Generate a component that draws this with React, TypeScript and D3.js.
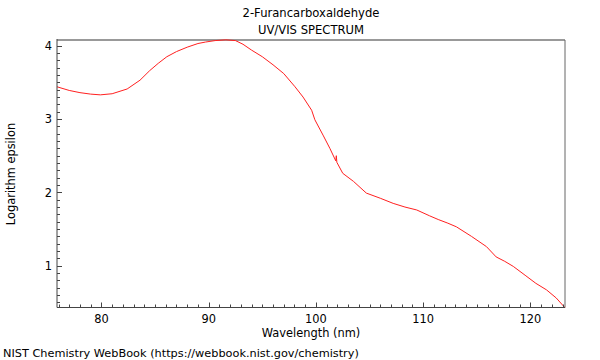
import React from "react";
import * as d3 from "d3";

const wavelengths = [75.86, 77, 78, 79, 79.9, 81, 82.4, 83.6, 84.5, 85.3, 86.1, 87, 88, 89, 89.7, 90.6, 91.6, 92.5, 93.2, 94.0, 95, 96.0, 97, 98.05, 98.8, 99.6, 99.9, 100.7, 101.3, 101.85, 101.9, 101.95, 102.5, 103.5, 104.7, 106, 107.2, 108.3, 109.4, 110.6, 111.4, 112.3, 113.1, 114.5, 115.9, 116.8, 117.6, 118.4, 119.5, 120.5, 121.5, 122.4, 123.2];
const logEpsilon = [3.44, 3.39, 3.36, 3.34, 3.33, 3.345, 3.41, 3.53, 3.66, 3.76, 3.85, 3.92, 3.98, 4.03, 4.05, 4.07, 4.08, 4.07, 4.02, 3.94, 3.85, 3.74, 3.62, 3.44, 3.3, 3.12, 2.99, 2.77, 2.6, 2.43, 2.5, 2.41, 2.26, 2.15, 1.99, 1.92, 1.85, 1.8, 1.76, 1.68, 1.63, 1.58, 1.53, 1.4, 1.26, 1.12, 1.06, 0.99, 0.87, 0.76, 0.67, 0.56, 0.43];

const xMajorTicks = [80, 90, 100, 110, 120];
const yMajorTicks = [1, 2, 3, 4];
const titleLines = ["2-Furancarboxaldehyde", "UV/VIS SPECTRUM"];
const xLabel = "Wavelength (nm)";
const yLabel = "Logarithm epsilon";
const credit = "NIST Chemistry WebBook (https://webbook.nist.gov/chemistry)";

const W = 600, H = 360;
const L = 57, R = 565, T = 40, B = 307.5;
const xDomain: [number, number] = [75.86, 123.22];
const yDomain: [number, number] = [0.43, 4.078];
const font = "DejaVu Sans, sans-serif";
const FS = 11.4;

export default function App() {
  const x = d3.scaleLinear().domain(xDomain).range([L, R]);
  const y = d3.scaleLinear().domain(yDomain).range([B, T]);
  const pts = wavelengths.map((w, i) => [w, logEpsilon[i]] as [number, number]);
  const line = d3.line<[number, number]>().x(d => x(d[0])).y(d => y(d[1]));
  const xMinor = d3.range(76, 124, 1).filter(v => !xMajorTicks.includes(v));
  const yMinor = d3.range(5, 41, 1).map(v => v / 10).filter(v => v >= yDomain[0] && !yMajorTicks.includes(v));
  return (
    <svg width={W} height={H} style={{ position: "absolute", left: 0, top: 0, background: "#fff" }} fontFamily={font}>
      <rect x={0} y={0} width={W} height={H} fill="#fff" />
      {titleLines.map((t, i) => (
        <text key={t} x={311} y={17 + i * 17} textAnchor="middle" fontSize={11.6} fill="#000">{t}</text>
      ))}
      <line x1={L} x2={R} y1={T} y2={T} stroke="#999" strokeWidth={2} />
      <line x1={R} x2={R} y1={T} y2={B} stroke="#666" strokeWidth={1} />
      <path d={line(pts) ?? ""} fill="none" stroke="#ff2020" strokeWidth={1} />
      <line x1={L} x2={L} y1={T - 1} y2={B} stroke="#444" strokeWidth={1} />
      <line x1={L} x2={R} y1={B} y2={B} stroke="#444" strokeWidth={1} />
      {yMajorTicks.map(v => (
        <g key={"ym" + v}>
          <line x1={L} x2={L + 5} y1={Math.round(y(v)) + 0.5} y2={Math.round(y(v)) + 0.5} stroke="#444" />
          <text x={52} y={y(v) + 4.3} textAnchor="end" fontSize={FS} fill="#000">{v}</text>
        </g>
      ))}
      {yMinor.map(v => (
        <line key={"yn" + v} x1={L} x2={L + 3} y1={Math.round(y(v)) + 0.5} y2={Math.round(y(v)) + 0.5} stroke="#444" />
      ))}
      {xMajorTicks.map(v => (
        <g key={"xm" + v}>
          <line x1={Math.round(x(v)) + 0.5} x2={Math.round(x(v)) + 0.5} y1={B} y2={B - 5} stroke="#444" />
          <text x={x(v)} y={323} textAnchor="middle" fontSize={FS} fill="#000">{v}</text>
        </g>
      ))}
      {xMinor.map(v => (
        <line key={"xn" + v} x1={Math.round(x(v)) + 0.5} x2={Math.round(x(v)) + 0.5} y1={B} y2={B - 3} stroke="#444" />
      ))}
      <text x={311} y={337} textAnchor="middle" fontSize={FS} fill="#000">{xLabel}</text>
      <text transform={`translate(15,174) rotate(-90)`} textAnchor="middle" fontSize={FS} fill="#000">{yLabel}</text>
      <text x={3} y={357} fontSize={11.3} fill="#000">{credit}</text>
    </svg>
  );
}
